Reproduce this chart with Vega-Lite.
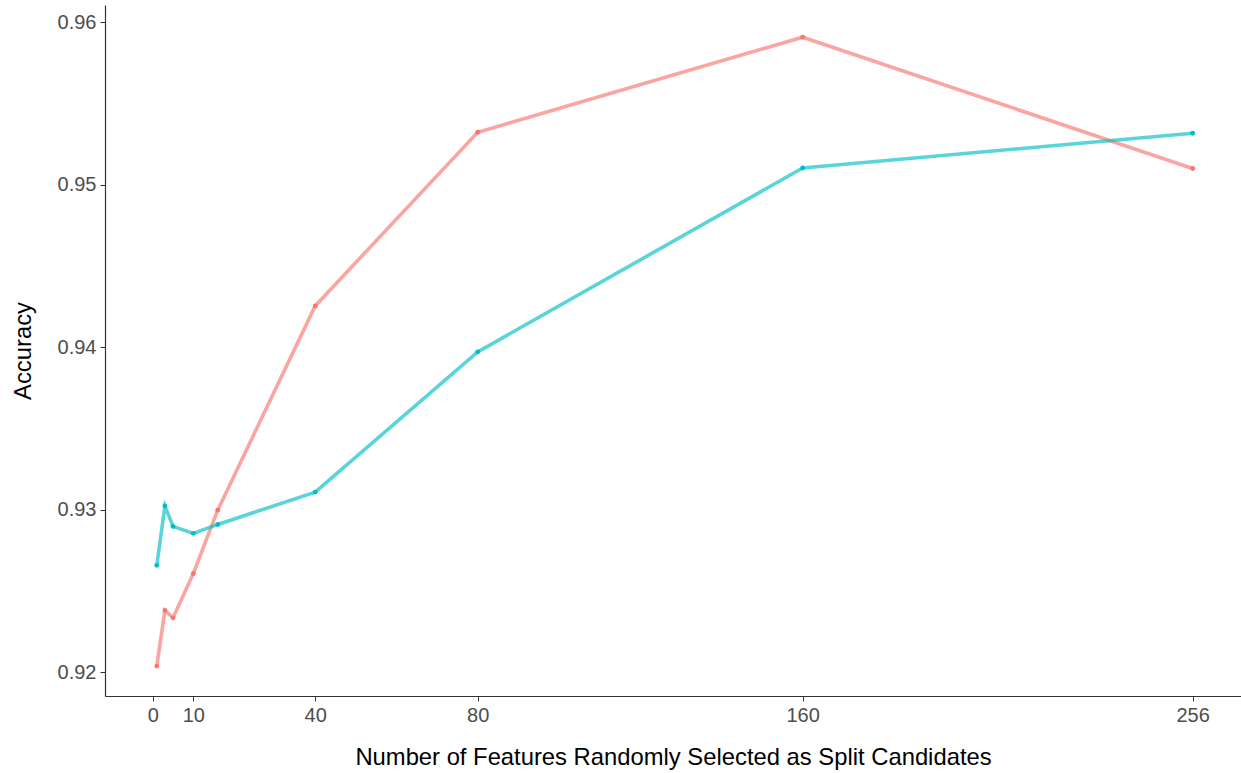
{
  "$schema": "https://vega.github.io/schema/vega-lite/v6.json",
  "autosize": "none",
  "width": 1136,
  "height": 691,
  "padding": {"left": 105, "top": 5, "right": 0, "bottom": 77},
  "background": "white",
  "config": {"view": {"stroke": null}, "font": "Liberation Sans"},
  "data": {
    "values": [
      {"features": 1, "accuracy": 0.92037, "series": "A"},
      {"features": 3, "accuracy": 0.9238, "series": "A"},
      {"features": 5, "accuracy": 0.92334, "series": "A"},
      {"features": 10, "accuracy": 0.92607, "series": "A"},
      {"features": 16, "accuracy": 0.92997, "series": "A"},
      {"features": 40, "accuracy": 0.94254, "series": "A"},
      {"features": 80, "accuracy": 0.95323, "series": "A"},
      {"features": 160, "accuracy": 0.95908, "series": "A"},
      {"features": 256, "accuracy": 0.951, "series": "A"},
      {"features": 1, "accuracy": 0.92657, "series": "B"},
      {"features": 3, "accuracy": 0.93022, "series": "B"},
      {"features": 5, "accuracy": 0.92897, "series": "B"},
      {"features": 10, "accuracy": 0.92854, "series": "B"},
      {"features": 16, "accuracy": 0.92909, "series": "B"},
      {"features": 40, "accuracy": 0.93108, "series": "B"},
      {"features": 80, "accuracy": 0.93971, "series": "B"},
      {"features": 160, "accuracy": 0.95103, "series": "B"},
      {"features": 256, "accuracy": 0.95317, "series": "B"}
    ]
  },
  "encoding": {
    "x": {
      "field": "features",
      "type": "quantitative",
      "scale": {"domain": [-11.75, 267.9], "nice": false, "zero": false},
      "axis": {
        "values": [0, 10, 40, 80, 160, 256],
        "title": "Number of Features Randomly Selected as Split Candidates",
        "titleFontSize": 23.8,
        "titleFontWeight": "normal",
        "titleColor": "black",
        "titlePadding": 20,
        "labelFontSize": 20,
        "labelColor": "#4D4D4D",
        "labelPadding": 4,
        "tickSize": 5,
        "tickColor": "#333333",
        "domainColor": "#333333",
        "domainWidth": 1.2,
        "grid": false
      }
    },
    "y": {
      "field": "accuracy",
      "type": "quantitative",
      "scale": {"domain": [0.91853, 0.96106], "nice": false, "zero": false},
      "axis": {
        "values": [0.92, 0.93, 0.94, 0.95, 0.96],
        "format": ".2f",
        "title": "Accuracy",
        "titleFontSize": 23.8,
        "titleFontWeight": "normal",
        "titleColor": "black",
        "titlePadding": 22,
        "labelFontSize": 20,
        "labelColor": "#4D4D4D",
        "labelPadding": 4,
        "tickSize": 5,
        "tickColor": "#333333",
        "domainColor": "#333333",
        "domainWidth": 1.2,
        "grid": false
      }
    },
    "color": {
      "field": "series",
      "type": "nominal",
      "scale": {"domain": ["A", "B"], "range": ["#F8766D", "#00BFC4"]},
      "legend": null
    }
  },
  "layer": [
    {"mark": {"type": "line", "strokeWidth": 3.6, "opacity": 0.65}},
    {"mark": {"type": "circle", "size": 24, "opacity": 1}}
  ]
}
